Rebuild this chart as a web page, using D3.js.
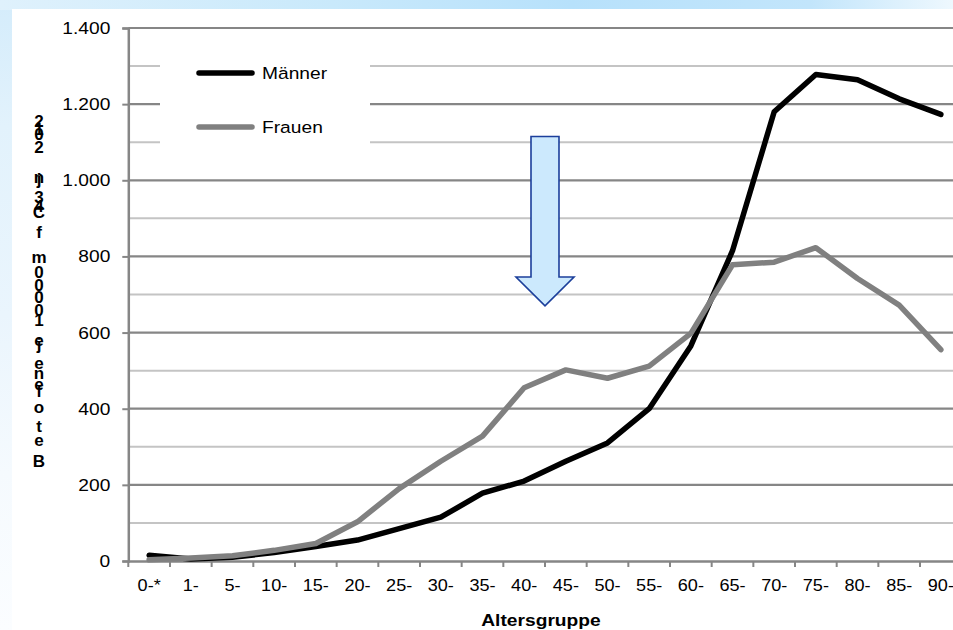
<!DOCTYPE html>
<html>
<head>
<meta charset="utf-8">
<script src="https://cdn.jsdelivr.net/npm/d3@7/dist/d3.min.js"></script>
<style>
  html, body { margin: 0; padding: 0; background: #ffffff; }
  svg { display: block; font-family: "Liberation Sans", Arial, sans-serif; }
</style>
</head>
<body>
<svg id="chart" width="953" height="630"></svg>
<script>
// Age groups and rates per series
const categories = ["0-*", "1-", "5-", "10-", "15-", "20-", "25-", "30-", "35-", "40-",
                    "45-", "50-", "55-", "60-", "65-", "70-", "75-", "80-", "85-", "90-"];
const maenner = [15, 5, 10, 22, 38, 55, 85, 115, 178, 210,
                 262, 310, 400, 565, 815, 1180, 1278, 1264, 1214, 1173];
const frauen  = [3, 8, 14, 28, 46, 103, 190, 262, 328, 455,
                 502, 480, 512, 598, 778, 785, 823, 742, 672, 555];
const yTicks = [0, 200, 400, 600, 800, 1000, 1200, 1400];
const yMinor = [100, 300, 500, 700, 900, 1100, 1300];
const seriesNames = ["Männer", "Frauen"];
const xTitle = "Altersgruppe";
// stacked glyphs of the vertical axis title, top to bottom
const yTitleGlyphs = ["2", "1", "0", "2", "n", "j", "3", "4", "C", "f", "m", "0", "0", "0", "0", "1",
                      "e", "j", "e", "n", "e", "f", "o", "t", "e", "B"];
const yTitleGlyphY = [121, 129, 134, 147, 177, 179, 197, 206, 212, 232, 257, 272, 285, 297, 310, 320,
                      340, 344, 363, 373, 384, 391, 407, 426, 440, 461];

const svg = d3.select("#chart");
const W = 953, H = 630;
const STRETCH = 1.13;
const fmt = d3.format(",");
const deFmt = v => fmt(v).replace(/,/g, ".");

// ---- decorative page background ----
const defs = svg.append("defs");
const gTop = defs.append("linearGradient").attr("id", "gTop").attr("x1", 0).attr("x2", 1).attr("y1", 0).attr("y2", 0);
[[0, "#dff1fc"], [0.35, "#c9e9fb"], [0.6, "#b7e1fb"], [0.85, "#c2e5fb"], [1, "#eef8fe"]]
  .forEach(([o, c]) => gTop.append("stop").attr("offset", o).attr("stop-color", c));
const gLeft = defs.append("linearGradient").attr("id", "gLeft").attr("x1", 0).attr("x2", 0).attr("y1", 0).attr("y2", 1);
[[0, "#d4ecfb"], [0.2, "#e2f2fc"], [0.5, "#eaf5fd"], [0.75, "#f5fafe"], [1, "#fbfdff"]]
  .forEach(([o, c]) => gLeft.append("stop").attr("offset", o).attr("stop-color", c));

svg.append("rect").attr("x", 0).attr("y", 0).attr("width", W).attr("height", H).attr("fill", "url(#gLeft)");
svg.append("rect").attr("x", 0).attr("y", 0).attr("width", W).attr("height", 10).attr("fill", "url(#gTop)");
svg.append("rect").attr("x", 12).attr("y", 9).attr("width", W - 12).attr("height", H - 9).attr("fill", "#ffffff");

// ---- scales ----
const x = d3.scaleBand().domain(categories).range([128.3, 961.7]).padding(0);
const y = d3.scaleLinear().domain([0, 1400]).range([561, 28]);
const cx = c => x(c) + x.bandwidth() / 2;

// ---- gridlines ----
const grid = svg.append("g");
grid.selectAll("line.minor").data(yMinor).join("line")
  .attr("class", "minor")
  .attr("x1", x.range()[0]).attr("x2", W)
  .attr("y1", d => y(d)).attr("y2", d => y(d))
  .attr("stroke", "#c4c4c4").attr("stroke-width", 2);
grid.selectAll("line.major").data(yTicks.filter(d => d > 0)).join("line")
  .attr("class", "major")
  .attr("x1", x.range()[0]).attr("x2", W)
  .attr("y1", d => y(d)).attr("y2", d => y(d))
  .attr("stroke", "#868686").attr("stroke-width", 2.2);

// ---- axes ----
function stretchText(sel) {
  sel.each(function () {
    const t = d3.select(this);
    const xv = +t.attr("x") || 0;
    t.attr("x", xv / STRETCH).attr("transform", `scale(${STRETCH},1)`);
  });
}

const yAxis = svg.append("g")
  .attr("transform", `translate(${x.range()[0]},0)`)
  .call(d3.axisLeft(y).tickValues(yTicks).tickFormat(deFmt).tickSize(6).tickPadding(12));
yAxis.select(".domain").attr("stroke", "#868686").attr("stroke-width", 2.5);
yAxis.selectAll(".tick line").attr("stroke", "#868686").attr("stroke-width", 2);
yAxis.selectAll(".tick text")
  .attr("font-size", 17).attr("fill", "#000").attr("font-family", "Liberation Sans, Arial, sans-serif")
  .call(stretchText);

const xAxis = svg.append("g")
  .attr("transform", `translate(0,${y(0)})`)
  .call(d3.axisBottom(x).tickSize(0).tickPadding(19));
xAxis.select(".domain").attr("stroke", "#868686").attr("stroke-width", 2.5);
xAxis.selectAll(".tick text")
  .attr("font-size", 16).attr("fill", "#000").attr("font-family", "Liberation Sans, Arial, sans-serif")
  .call(stretchText);
// tick marks sit on the band boundaries
svg.append("g").selectAll("line").data(categories).join("line")
  .attr("x1", d => x(d)).attr("x2", d => x(d))
  .attr("y1", y(0)).attr("y2", y(0) + 6)
  .attr("stroke", "#868686").attr("stroke-width", 2);

// ---- legend box (white, hides gridlines underneath) ----
const legend = svg.append("g");
legend.append("rect").attr("x", 160).attr("y", 42).attr("width", 210).attr("height", 110).attr("fill", "#ffffff");
const legendColors = ["#000000", "#808080"];
seriesNames.forEach((name, i) => {
  const ly = 73 + i * 54;
  legend.append("line").attr("x1", 199).attr("x2", 252).attr("y1", ly).attr("y2", ly)
    .attr("stroke", legendColors[i]).attr("stroke-width", 5.5).attr("stroke-linecap", "round");
  legend.append("text").attr("x", 262 / STRETCH).attr("y", ly)
    .attr("transform", `scale(${STRETCH},1)`)
    .attr("dominant-baseline", "central").attr("font-size", 17).text(name);
});

// ---- series lines ----
const line = d3.line().x((d, i) => cx(categories[i])).y(d => y(d));
[[maenner, "#000000"], [frauen, "#808080"]].forEach(([vals, col]) => {
  svg.append("path").datum(vals)
    .attr("d", line)
    .attr("fill", "none").attr("stroke", col).attr("stroke-width", 5.5)
    .attr("stroke-linejoin", "round").attr("stroke-linecap", "round");
});

// ---- annotation arrow pointing down at the 40-/45- groups ----
const ax = x("45-");
const shaftTop = y(1115), wingY = y(746), tipY = y(670);
const arrowPts = [
  [ax - 14, shaftTop], [ax + 14, shaftTop], [ax + 14, wingY], [ax + 29, wingY],
  [ax, tipY], [ax - 29, wingY], [ax - 14, wingY]
];
svg.append("path")
  .attr("d", d3.line()(arrowPts) + "Z")
  .attr("fill", "#cce9fd").attr("stroke", "#1c3f9b").attr("stroke-width", 1.6)
  .attr("stroke-linejoin", "miter");

// ---- axis titles ----
svg.append("text")
  .attr("x", 541 / STRETCH).attr("y", 626)
  .attr("transform", `scale(${STRETCH},1)`)
  .attr("text-anchor", "middle").attr("font-size", 17).attr("font-weight", "bold")
  .text(xTitle);

// vertical title: one text element, each glyph stacked on its own row
const yTitle = svg.append("text")
  .attr("text-anchor", "middle").attr("dominant-baseline", "central")
  .attr("font-size", 17).attr("font-weight", "bold");
yTitle.selectAll("tspan").data(yTitleGlyphs).join("tspan")
  .attr("x", 39).attr("y", (d, i) => yTitleGlyphY[i])
  .attr("dominant-baseline", "central")
  .text(d => d);
</script>
</body>
</html>
